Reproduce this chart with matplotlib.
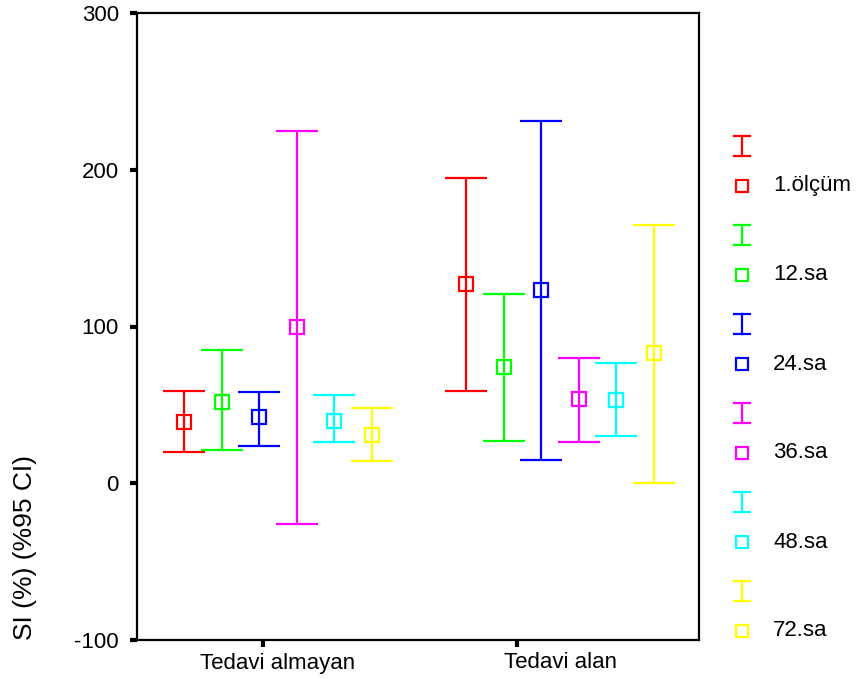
import matplotlib.pyplot as plt

plt.rcParams['font.family'] = ['Liberation Sans', 'DejaVu Sans']

groups = ["Tedavi almayan", "Tedavi alan"]
series = ["1.ölçüm", "12.sa", "24.sa", "36.sa", "48.sa", "72.sa"]
colors = ["#ff0000", "#00ff00", "#0000ff", "#ff00ff", "#00ffff", "#ffff00"]

# mean and 95% CI per series, one list per group
means_almayan = [39, 52, 42, 100, 40, 31]
lower_almayan = [20, 21, 24, -26, 26, 14]
upper_almayan = [59, 85, 58, 225, 56, 48]

means_alan = [127, 74, 123, 54, 53, 83]
lower_alan = [59, 27, 15, 26, 30, 0]
upper_alan = [195, 121, 231, 80, 77, 165]

yticks = [-100, 0, 100, 200, 300]

# layout (axis runs in pixel-like units across the box)
group_start = [47, 329]
step = 37.5
cat_ticks = [126, 380]
cat_label_pos = [141, 423]

fig = plt.figure(figsize=(8.66, 6.79), dpi=100)
ax = fig.add_axes([137 / 866, 39 / 679, 562 / 866, 627 / 679])

data = [(means_almayan, lower_almayan, upper_almayan),
        (means_alan, lower_alan, upper_alan)]
for g, (means, lows, highs) in enumerate(data):
    for i, (m, lo, hi) in enumerate(zip(means, lows, highs)):
        x = group_start[g] + i * step
        ax.errorbar([x], [m], yerr=[[m - lo], [hi - m]], fmt='s',
                    color=colors[i], mfc='none', mec=colors[i], ms=10,
                    mew=1.6, elinewidth=1.6, capsize=15, capthick=1.6)

ax.set_xlim(0, 562)
ax.set_ylim(-100, 300)
ax.set_yticks(yticks)
ax.set_yticklabels([str(t) for t in yticks], fontsize=16)
ax.set_xticks(cat_label_pos)
ax.set_xticklabels(groups, fontsize=16)
ax.set_xticks(cat_ticks, minor=True)
ax.tick_params(axis='x', which='major', length=0, pad=9)
ax.tick_params(axis='x', which='minor', length=5, width=3, direction='out')
ax.tick_params(axis='y', length=5, width=3, direction='out', pad=8)
for s in ax.spines.values():
    s.set_linewidth(1.6)

fig.text(25 / 866, 1 - 548 / 679, "SI (%) (%95 CI)", rotation=90,
         ha='center', va='center', fontsize=19)

# legend drawn by hand: I-bar row then square row per series
leg = fig.add_axes([0, 0, 1, 1])
leg.set_xlim(0, 866)
leg.set_ylim(679, 0)
leg.axis('off')
for i, name in enumerate(series):
    yi = 146 + i * 89
    ys = 186 + i * 89
    leg.plot([742, 742], [yi - 10, yi + 10], color=colors[i], lw=1.6)
    leg.plot([734, 750], [yi - 10, yi - 10], color=colors[i], lw=1.6)
    leg.plot([734, 750], [yi + 10, yi + 10], color=colors[i], lw=1.6)
    leg.plot([742], [ys], marker='s', ms=9, mfc='none', mec=colors[i],
             mew=1.6, ls='none')
    leg.text(773, ys, name, fontsize=16, va='center', ha='left')

fig.savefig("out.png", dpi=100)
